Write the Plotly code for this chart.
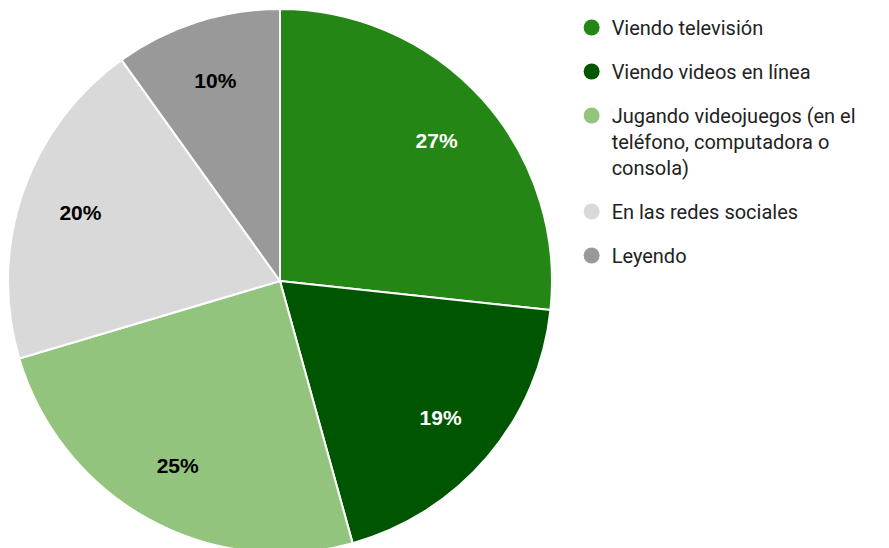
import plotly.graph_objects as go

categories = ["Viendo televisión", "Viendo videos en línea",
              "Jugando videojuegos (en el<br>teléfono, computadora o<br>consola)",
              "En las redes sociales", "Leyendo"]
values = [26.7, 19.0, 24.7, 19.7, 9.9]
colors = ["#248615", "#005500", "#93c47d", "#d9d9d9", "#999999"]
text_colors = ["white", "white", "black", "black", "black"]

dom = dict(x=[0, 544/889], y=[0.0055, 0.9982])

fig = go.Figure()
fig.add_trace(go.Pie(
    labels=categories, values=values, sort=False, direction="clockwise",
    rotation=0, marker=dict(colors=colors, line=dict(color="white", width=2)),
    textinfo="none", showlegend=False, hoverinfo="label+percent", domain=dom,
))
fig.add_trace(go.Pie(
    labels=categories, values=values, sort=False, direction="clockwise",
    rotation=0, hole=0.55,
    marker=dict(colors=["rgba(0,0,0,0)"] * len(values), line=dict(width=0)),
    texttemplate="%{percent:.0%}", textposition="inside",
    insidetextfont=dict(color=text_colors, size=21, family="Arial, Liberation Sans",
                        weight="bold"),
    showlegend=False, hoverinfo="skip", domain=dom,
))
for i, (c, col) in enumerate(zip(categories, colors)):
    fig.add_trace(go.Scatter(x=[None], y=[None], mode="markers", name=c,
                             legendgroup=f"g{i}",
                             marker=dict(color=col, size=16, symbol="circle")))

fig.update_layout(
    width=889, height=548, margin=dict(l=0, r=0, t=0, b=0),
    paper_bgcolor="white", plot_bgcolor="white",
    xaxis=dict(visible=False), yaxis=dict(visible=False),
    font=dict(family="Roboto", size=20, color="#222222"),
    legend=dict(x=0.634, y=1.0, xanchor="left", yanchor="top",
                font=dict(size=20, family="Roboto", color="#222222"),
                itemwidth=30, tracegroupgap=15, valign="top"),
    uniformtext=dict(minsize=21, mode="show"),
)
fig.write_html("out.html")
